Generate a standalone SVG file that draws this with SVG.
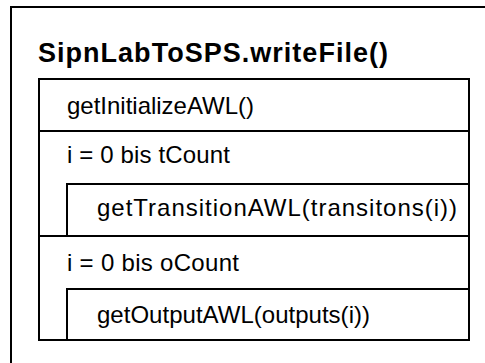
<svg xmlns="http://www.w3.org/2000/svg" width="485" height="363" viewBox="0 0 485 363">
<style>
.box{fill:none;stroke:#000;stroke-width:2}
.t{font-family:"Liberation Sans",Arial,sans-serif;font-size:24px;fill:#000}
.title{font-family:"Liberation Sans",Arial,sans-serif;font-size:27px;font-weight:bold;fill:#000}
</style>
<rect width="485" height="363" fill="#fff"/>
<g id="frame">
<rect class="box" x="11" y="7" width="490" height="370"/>
<text class="title" x="38" y="62" textLength="350" lengthAdjust="spacing">SipnLabToSPS.writeFile()</text>
</g>
<g id="init">
<rect class="box" x="39" y="79" width="430" height="52"/>
<text class="t" x="67" y="114" textLength="187" lengthAdjust="spacing">getInitializeAWL()</text>
</g>
<g id="loop1">
<rect class="box" x="39" y="131" width="430" height="105"/>
<text class="t" x="67" y="163" textLength="163" lengthAdjust="spacing">i = 0 bis tCount</text>
</g>
<g id="trans">
<rect class="box" x="67" y="184" width="402" height="52"/>
<text class="t" x="97" y="216" textLength="360" lengthAdjust="spacing">getTransitionAWL(transitons(i))</text>
</g>
<g id="loop2">
<rect class="box" x="39" y="236" width="430" height="104"/>
<text class="t" x="67" y="271" textLength="172" lengthAdjust="spacing">i = 0 bis oCount</text>
</g>
<g id="output">
<rect class="box" x="67" y="289" width="402" height="51"/>
<text class="t" x="97" y="323" textLength="273" lengthAdjust="spacing">getOutputAWL(outputs(i))</text>
</g>
<g id="connectors"/>
</svg>
